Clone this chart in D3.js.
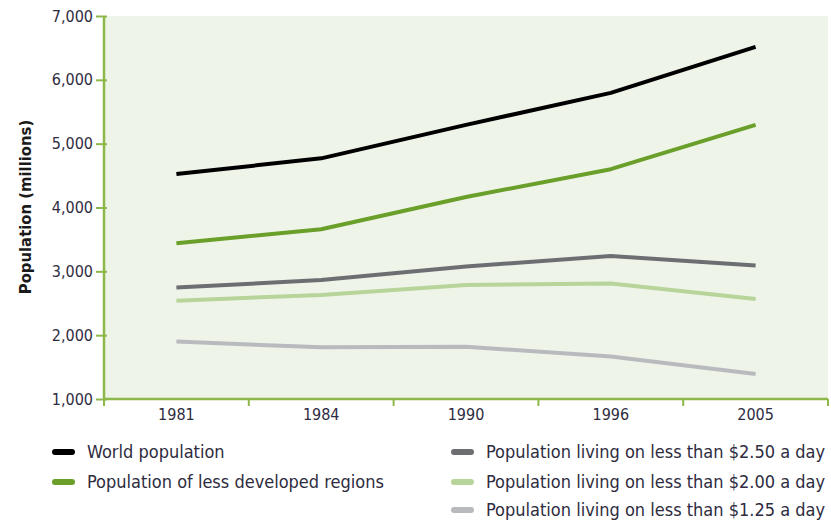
<!DOCTYPE html>
<html>
<head>
<meta charset="utf-8">
<script src="https://cdn.jsdelivr.net/npm/d3@7"></script>
<style>
  body { margin: 0; background: #fff; }
  text { font-family: "DejaVu Sans Condensed", "Liberation Sans Narrow", sans-serif; fill: #2e2c40; }
</style>
</head>
<body>
<script>
var years = ["1981", "1984", "1990", "1996", "2005"];
var world = [4525, 4770, 5295, 5795, 6515];
var lessDeveloped = [3440, 3660, 4165, 4600, 5295];
var under250 = [2745, 2865, 3075, 3240, 3090];
var under200 = [2540, 2630, 2785, 2810, 2565];
var under125 = [1900, 1810, 1820, 1665, 1390];
var yTicks = [1000, 2000, 3000, 4000, 5000, 6000, 7000];

var series = [
  {name: "World population", values: world, color: "#000000"},
  {name: "Population of less developed regions", values: lessDeveloped, color: "#6a9f2a"},
  {name: "Population living on less than $2.50 a day", values: under250, color: "#6d6e72"},
  {name: "Population living on less than $2.00 a day", values: under200, color: "#b7d59a"},
  {name: "Population living on less than $1.25 a day", values: under125, color: "#b9babe"}
];

var margin = {top: 16, right: 3, bottom: 127, left: 104},
    width = 831 - margin.left - margin.right,
    height = 526 - margin.top - margin.bottom;

var svg = d3.select("body").append("svg")
    .attr("width", 831)
    .attr("height", 526);

var g = svg.append("g")
    .attr("transform", "translate(" + margin.left + "," + margin.top + ")");

// set the ranges
var x = d3.scaleBand().domain(years).range([0, width]);
var y = d3.scaleLinear().domain([1000, 7000]).range([height, 0]);

// plot background
g.append("rect")
    .attr("width", width)
    .attr("height", height)
    .attr("fill", "#eff4e9");

var line = d3.line()
    .x(function(d, i) { return x(years[i]) + x.bandwidth() / 2; })
    .y(function(d) { return y(d); });

series.slice().reverse().forEach(function(s) {
  g.append("path")
      .datum(s.values)
      .attr("fill", "none")
      .attr("stroke", s.color)
      .attr("stroke-width", 4)
      .attr("stroke-linejoin", "round")
      .attr("d", line);
});

// y axis
var yAxis = g.append("g")
    .call(d3.axisLeft(y).tickValues(yTicks).tickFormat(d3.format(",")).tickSize(8).tickPadding(3));
yAxis.select(".domain").attr("stroke", "#8cb84a").attr("stroke-width", 2.5)
    .attr("d", "M0,0V" + height);
yAxis.selectAll(".tick line").attr("stroke", "#8cb84a").attr("stroke-width", 2)
    .attr("x2", -8).attr("x1", 3);
yAxis.selectAll(".tick text").attr("font-size", 16).style("fill", "#2e2c40")
    .style("font-family", "DejaVu Sans Condensed, sans-serif");

// x axis
var xAxis = g.append("g")
    .attr("transform", "translate(0," + height + ")")
    .call(d3.axisBottom(x).tickSize(0).tickPadding(10));
xAxis.select(".domain").attr("stroke", "#8cb84a").attr("stroke-width", 2.5)
    .attr("d", "M0,0H" + width);
xAxis.selectAll(".tick text").attr("font-size", 16).style("fill", "#2e2c40")
    .style("font-family", "DejaVu Sans Condensed, sans-serif");
xAxis.selectAll(".xtick")
    .data(d3.range(years.length + 1))
    .enter().append("line")
    .attr("x1", function(i) { return i * x.bandwidth(); })
    .attr("x2", function(i) { return i * x.bandwidth(); })
    .attr("y1", 0)
    .attr("y2", 7)
    .attr("stroke", "#8cb84a")
    .attr("stroke-width", 2);

// y axis title
svg.append("text")
    .attr("transform", "translate(25,207) rotate(-90)")
    .attr("text-anchor", "middle")
    .attr("dy", "0.35em")
    .attr("font-size", 16.5)
    .attr("font-weight", "bold")
    .style("fill", "#1a1a1a")
    .text("Population (millions)");

// legend
var legendPos = [
  {x: 52, y: 452}, {x: 52, y: 482},
  {x: 451, y: 452}, {x: 451, y: 482}, {x: 451, y: 510}
];

var legend = svg.selectAll(".legend")
    .data(series)
    .enter().append("g")
    .attr("transform", function(d, i) { return "translate(" + legendPos[i].x + "," + legendPos[i].y + ")"; });

legend.append("line")
    .attr("x1", 3).attr("x2", 20)
    .attr("y1", 0).attr("y2", 0)
    .attr("stroke", function(d) { return d.color; })
    .attr("stroke-width", 6)
    .attr("stroke-linecap", "round");

legend.append("text")
    .attr("x", 35)
    .attr("y", 0)
    .attr("dy", "0.35em")
    .attr("font-size", 18)
    .style("fill", "#2e2c40")
    .text(function(d) { return d.name; });
</script>
</body>
</html>
